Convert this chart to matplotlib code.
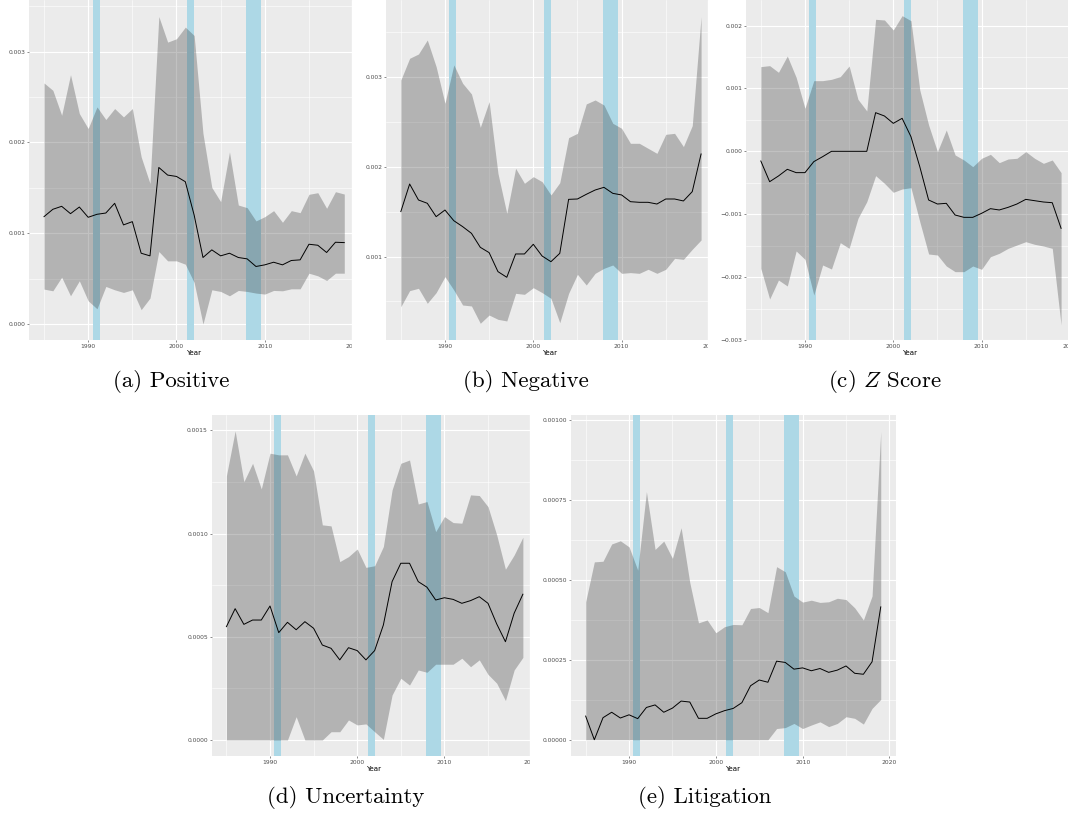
import numpy as np
import matplotlib.pyplot as plt
from matplotlib.patches import Rectangle
from matplotlib.ticker import FixedLocator

plt.rcParams['mathtext.fontset'] = 'cm'

years = np.arange(1985, 2020)

# sentiment series, in units of 1e-3 (mean and band bounds)
positive_mean = [1.183, 1.264, 1.297, 1.216, 1.289, 1.176, 1.209, 1.223, 1.330, 1.092, 1.128, 0.780, 0.751, 1.725, 1.641,
                 1.626, 1.568, 1.200, 0.733, 0.817, 0.751, 0.780, 0.733, 0.718, 0.634, 0.652, 0.681, 0.652, 0.700, 0.707,
                 0.879, 0.868, 0.788, 0.901, 0.897]
positive_hi = [2.656, 2.575, 2.300, 2.747, 2.319, 2.154, 2.392, 2.253, 2.374, 2.282, 2.374, 1.842, 1.549, 3.388, 3.106,
               3.143, 3.271, 3.179, 2.099, 1.505, 1.348, 1.897, 1.311, 1.282, 1.136, 1.183, 1.249, 1.121, 1.249, 1.227,
               1.429, 1.447, 1.275, 1.458, 1.432]
positive_lo = [0.385, 0.366, 0.516, 0.311, 0.476, 0.256, 0.168, 0.414, 0.377, 0.348, 0.377, 0.158, 0.286, 0.799, 0.696,
               0.696, 0.659, 0.458, 0.000, 0.377, 0.359, 0.311, 0.370, 0.359, 0.341, 0.330, 0.370, 0.366, 0.388, 0.388,
               0.560, 0.531, 0.480, 0.560, 0.560]

negative_mean = [1.502, 1.810, 1.632, 1.595, 1.446, 1.520, 1.401, 1.335, 1.260, 1.104, 1.045, 0.833, 0.770, 1.030, 1.030,
                 1.138, 1.007, 0.944, 1.037, 1.639, 1.643, 1.695, 1.743, 1.773, 1.706, 1.688, 1.613, 1.606, 1.606, 1.587,
                 1.643, 1.643, 1.621, 1.725, 2.145]
negative_hi = [2.970, 3.212, 3.260, 3.416, 3.119, 2.710, 3.138, 2.933, 2.814, 2.442, 2.729, 1.929, 1.483, 1.985, 1.818,
               1.892, 1.836, 1.688, 1.825, 2.327, 2.375, 2.703, 2.747, 2.691, 2.487, 2.431, 2.264, 2.264, 2.208, 2.152,
               2.364, 2.375, 2.227, 2.461, 3.677]
negative_lo = [0.442, 0.621, 0.647, 0.480, 0.599, 0.777, 0.628, 0.461, 0.450, 0.257, 0.349, 0.301, 0.283, 0.591, 0.580,
               0.654, 0.599, 0.535, 0.264, 0.591, 0.803, 0.684, 0.814, 0.870, 0.907, 0.814, 0.822, 0.814, 0.859, 0.814,
               0.859, 0.981, 0.970, 1.082, 1.186]

zscore_mean = [-0.154, -0.483, -0.392, -0.286, -0.339, -0.339, -0.164, -0.085, 0.000, 0.000, 0.000, 0.000, 0.000, 0.615,
               0.562, 0.445, 0.525, 0.233, -0.244, -0.774, -0.838, -0.827, -1.013, -1.050, -1.050, -0.986, -0.912,
               -0.933, -0.891, -0.838, -0.764, -0.785, -0.806, -0.817, -1.225]
zscore_hi = [1.347, 1.363, 1.257, 1.516, 1.177, 0.684, 1.124, 1.124, 1.145, 1.188, 1.357, 0.827, 0.642, 2.100, 2.089,
             1.930, 2.158, 2.078, 0.976, 0.419, -0.005, 0.339, -0.058, -0.138, -0.244, -0.111, -0.048, -0.180, -0.122,
             -0.111, -0.005, -0.111, -0.191, -0.138, -0.339]
zscore_lo = [-1.861, -2.349, -2.047, -2.142, -1.585, -1.718, -2.285, -1.808, -1.872, -1.453, -1.543, -1.066, -0.801,
             -0.387, -0.509, -0.652, -0.599, -0.578, -1.119, -1.633, -1.649, -1.824, -1.914, -1.914, -1.824, -1.877,
             -1.676, -1.622, -1.543, -1.490, -1.437, -1.479, -1.506, -1.543, -2.762]

uncert_mean = [0.549, 0.636, 0.560, 0.581, 0.581, 0.649, 0.520, 0.570, 0.534, 0.573, 0.541, 0.460, 0.444, 0.388, 0.447,
               0.433, 0.388, 0.433, 0.557, 0.767, 0.856, 0.856, 0.767, 0.740, 0.678, 0.689, 0.681, 0.662, 0.675, 0.694,
               0.662, 0.562, 0.476, 0.614, 0.706]
uncert_hi = [1.280, 1.497, 1.251, 1.340, 1.216, 1.389, 1.381, 1.381, 1.279, 1.389, 1.303, 1.042, 1.037, 0.864, 0.888,
             0.925, 0.836, 0.844, 0.937, 1.211, 1.340, 1.356, 1.143, 1.155, 1.009, 1.082, 1.053, 1.050, 1.187, 1.184,
             1.130, 0.993, 0.827, 0.896, 0.982]
uncert_lo = [0.000, 0.000, 0.000, 0.000, 0.000, 0.000, 0.000, 0.000, 0.113, 0.000, 0.000, 0.000, 0.040, 0.040, 0.097,
             0.073, 0.078, 0.040, 0.003, 0.218, 0.299, 0.266, 0.339, 0.328, 0.367, 0.367, 0.367, 0.396, 0.355, 0.388,
             0.318, 0.275, 0.191, 0.339, 0.400]

litig_mean = [0.074, 0.000, 0.069, 0.086, 0.068, 0.078, 0.066, 0.101, 0.109, 0.086, 0.099, 0.121, 0.118, 0.067, 0.067,
              0.081, 0.091, 0.098, 0.116, 0.169, 0.187, 0.180, 0.246, 0.242, 0.221, 0.225, 0.216, 0.223, 0.211, 0.218,
              0.231, 0.208, 0.205, 0.244, 0.416]
litig_hi = [0.432, 0.557, 0.559, 0.613, 0.623, 0.604, 0.531, 0.777, 0.596, 0.622, 0.568, 0.664, 0.492, 0.366, 0.375,
            0.335, 0.354, 0.361, 0.360, 0.411, 0.414, 0.398, 0.542, 0.526, 0.450, 0.431, 0.437, 0.430, 0.432, 0.443,
            0.439, 0.413, 0.375, 0.450, 0.965]
litig_lo = [0.000, 0.000, 0.000, 0.000, 0.000, 0.000, 0.000, 0.000, 0.000, 0.000, 0.000, 0.000, 0.000, 0.000, 0.000,
            0.000, 0.000, 0.000, 0.000, 0.000, 0.000, 0.000, 0.035, 0.038, 0.051, 0.035, 0.046, 0.056, 0.041, 0.051,
            0.072, 0.067, 0.049, 0.098, 0.126]

# NBER recessions
recessions = [(1990.5, 1991.3), (2001.2, 2002.0), (2007.9, 2009.6)]

x_ticks = [1990, 2000, 2010, 2020]
x_minor = [1985, 1995, 2005, 2015]

positive_ticks = [0.000, 0.001, 0.002, 0.003]
negative_ticks = [0.001, 0.002, 0.003]
zscore_ticks = [-0.003, -0.002, -0.001, 0.000, 0.001, 0.002]
uncert_ticks = [0.0000, 0.0005, 0.0010, 0.0015]
litig_ticks = [0.00000, 0.00025, 0.00050, 0.00075, 0.00100]

captions = ['(a) Positive', '(b) Negative', '(c) $Z$ Score', '(d) Uncertainty', '(e) Litigation']

W, H = 1068, 814
fig = plt.figure(figsize=(W / 100, H / 100), dpi=100)
fig.patch.set_facecolor('white')


def px_axes(left, top, right, bottom):
    return fig.add_axes([left / W, 1 - bottom / H, (right - left) / W, (bottom - top) / H])


def panel(box, mean, lo, hi, ylim, ticks, decimals):
    ax = px_axes(*box)
    ax.set_facecolor('#EBEBEB')
    ax.set_axisbelow(True)
    for s in ax.spines.values():
        s.set_visible(False)

    ax.xaxis.set_major_locator(FixedLocator(x_ticks))
    ax.xaxis.set_minor_locator(FixedLocator(x_minor))
    ax.set_xticklabels([str(t) for t in x_ticks])
    step = ticks[1] - ticks[0]
    ax.yaxis.set_major_locator(FixedLocator(ticks))
    ax.yaxis.set_minor_locator(FixedLocator([t + step / 2 for t in [ticks[0] - step] + ticks]))
    ax.set_yticklabels([f'{t:.{decimals}f}'.replace('-', '\u2212') for t in ticks])

    ax.grid(which='major', color='white', lw=0.8)
    ax.grid(which='minor', color='white', lw=0.4)
    ax.tick_params(which='major', length=1.6, width=0.4, color='#333333', labelsize=4.3,
                   labelcolor='#4D4D4D', pad=1)
    ax.tick_params(which='minor', length=0)

    for a, b in recessions:
        ax.axvspan(a, b, color='#ADD8E6', lw=0, zorder=1)
    ax.fill_between(years, np.array(lo) * 1e-3, np.array(hi) * 1e-3, color='#333333', alpha=0.3, lw=0, zorder=2)
    ax.plot(years, np.array(mean) * 1e-3, color='black', lw=0.7, zorder=3)

    ax.set_xlim(1983.3, 2020.7)
    ax.set_ylim(*ylim)
    ax.set_xlabel('Year', fontsize=5.1, labelpad=1)
    return ax


panel((29, 0, 359.3, 340), positive_mean, positive_lo, positive_hi, (-0.176e-3, 3.57e-3), positive_ticks, 3)
panel((385.8, 0, 716.1, 340), negative_mean, negative_lo, negative_hi, (0.0706e-3, 3.862e-3), negative_ticks, 3)
panel((745.8, 0, 1076.1, 340), zscore_mean, zscore_lo, zscore_hi, (-3.001e-3, 2.407e-3), zscore_ticks, 3)
panel((211.6, 415, 537.7, 756), uncert_mean, uncert_lo, uncert_hi, (-0.0775e-3, 1.574e-3), uncert_ticks, 4)
panel((570.9, 415, 895.5, 756), litig_mean, litig_lo, litig_hi, (-0.051e-3, 1.017e-3), litig_ticks, 5)

# trim the right edge of the cropped plots
for x0, x1, y0, y1 in [(352, 363, 0, 366), (708, 720, 0, 366), (530, 541, 400, 785)]:
    fig.add_artist(Rectangle((x0 / W, 1 - y1 / H), (x1 - x0) / W, (y1 - y0) / H,
                             transform=fig.transFigure, color='white', zorder=10))

cap_pos = [(171, 387), (526, 387), (885, 387), (346, 803), (705, 803)]
for (cx, cy), txt in zip(cap_pos, captions):
    fig.text(cx / W, 1 - cy / H, txt, family='cmr10', fontsize=16.5, ha='center', va='baseline', zorder=11)

fig.savefig('out.png', dpi=100)
